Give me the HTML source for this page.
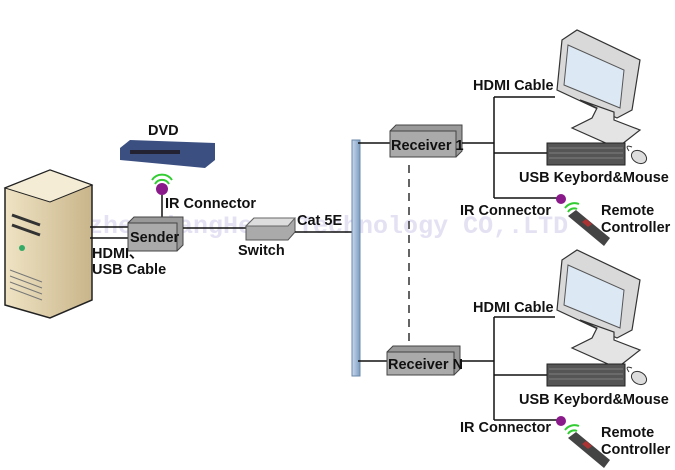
<!DOCTYPE html>
<html><head><meta charset="utf-8"><style>
html,body{margin:0;padding:0;background:#fff;}
svg{display:block;font-family:"Liberation Sans",Arial,sans-serif;}
.t{font-weight:bold;font-size:14.5px;fill:#111;}
</style></head><body>
<svg width="675" height="470" viewBox="0 0 675 470">
<defs>
<linearGradient id="beige" x1="0" x2="1"><stop offset="0" stop-color="#efe3c4"/><stop offset="1" stop-color="#c9b58a"/></linearGradient>
<linearGradient id="bus" x1="0" x2="1"><stop offset="0" stop-color="#c9d9ec"/><stop offset="1" stop-color="#7d9cc0"/></linearGradient>
<g id="mon">
<polygon points="10,10 25,0 88,30 80,80 65,88 5,60" fill="#d9d9d9" stroke="#333" stroke-width="1.2"/>
<polygon points="16,15 72,40 68,78 12,55" fill="#dde8f5" stroke="#555"/>
<polygon points="28,70 45,78 40,88 20,98 65,118 88,100 62,90 62,82" fill="#e4e4e4" stroke="#333" stroke-width="1.2"/>
</g>
<g id="kb">
<rect x="0" y="0" width="78" height="22" fill="#555" stroke="#222"/>
<path d="M2 5H76M2 10H76M2 15H76" stroke="#aaa" stroke-width="0.6"/>
<path d="M85 4 q-8 -3 -3 4" fill="none" stroke="#333"/>
<ellipse cx="92" cy="14" rx="8" ry="6" fill="#ddd" stroke="#333" transform="rotate(30 92 14)"/>
</g>
<g id="rem">
<path d="M3 6 a12 12 0 0 1 14 -4 M6 10 a7 7 0 0 1 9 -3" fill="none" stroke="#3c3" stroke-width="2"/>
<polygon points="6,14 14,8 48,36 42,44" fill="#444"/>
<polygon points="20,20 24,17 30,22 26,25" fill="#a33"/>
</g>
</defs>

<text x="28" y="233" font-family="Liberation Mono,monospace" font-size="25" fill="#e4e1f3" font-weight="bold">ShenzhenJiangHeng Technology CO,.LTD</text>

<!-- server -->
<polygon points="5,188 50,170 92,185 92,300 50,318 5,305" fill="url(#beige)" stroke="#222" stroke-width="1.5"/>
<polygon points="5,188 50,170 92,185 50,202" fill="#f4ecd5" stroke="#222"/>
<path d="M12 215 L40 225 M12 225 L40 235" stroke="#333" stroke-width="3"/>
<circle cx="22" cy="248" r="3" fill="#3a6"/>
<path d="M10 270 L42 282 M10 276 L42 288 M10 282 L42 294 M10 288 L42 300" stroke="#777"/>

<!-- DVD -->
<text class="t" x="148" y="135">DVD</text>
<polygon points="120,148 130,140 215,143 215,160 205,168 120,160" fill="#3b4f80"/>
<rect x="130" y="150" width="50" height="4" fill="#223"/>
<path d="M152 180 a12 12 0 0 1 20 0 M155 184 a8 8 0 0 1 14 0" fill="none" stroke="#3c3" stroke-width="2"/>
<circle cx="162" cy="189" r="6" fill="#8a1a8a"/>
<line x1="162" y1="195" x2="162" y2="220" stroke="#111" stroke-width="1.5"/>
<text class="t" x="165" y="208">IR Connector</text>

<!-- sender -->
<line x1="90" y1="227" x2="132" y2="227" stroke="#111" stroke-width="1.5"/>
<line x1="90" y1="238" x2="132" y2="238" stroke="#111" stroke-width="1.5"/>
<polygon points="128,223 134,217 183,217 183,245 177,251 128,251" fill="#999" stroke="#444"/>
<rect x="128" y="223" width="49" height="28" fill="#aaa" stroke="#444"/>
<text class="t" x="130" y="242">Sender</text>
<text class="t" x="92" y="258">HDMI、</text>
<text class="t" x="92" y="274">USB Cable</text>
<line x1="183" y1="228" x2="248" y2="228" stroke="#111" stroke-width="1.5"/>
<polygon points="246,226 254,218 295,218 295,232 288,240 246,240" fill="#aaa" stroke="#555"/>
<polygon points="246,226 254,218 295,218 288,226" fill="#ddd" stroke="#666"/>
<text class="t" x="238" y="255">Switch</text>
<text class="t" x="297" y="225">Cat 5E</text>
<line x1="295" y1="232" x2="354" y2="232" stroke="#111" stroke-width="1.5"/>

<!-- bus -->
<rect x="352" y="140" width="8" height="236" fill="url(#bus)" stroke="#6a88aa"/>
<line x1="409" y1="165" x2="409" y2="342" stroke="#111" stroke-width="1.3" stroke-dasharray="8,6"/>

<!-- receiver 1 -->
<line x1="358" y1="143" x2="392" y2="143" stroke="#111" stroke-width="1.5"/>
<polygon points="390,131 396,125 462,125 462,151 456,157 390,157" fill="#999" stroke="#444"/>
<rect x="390" y="131" width="66" height="26" fill="#aaa" stroke="#444"/>
<text class="t" x="391" y="150">Receiver 1</text>
<path d="M462 143H494 M494 97V198 M494 97H555 M494 153H548 M494 198H558" stroke="#111" stroke-width="1.5" fill="none"/>
<text class="t" x="473" y="90">HDMI Cable</text>
<use href="#mon" x="552" y="30"/>
<use href="#kb" x="547" y="143"/>
<text class="t" x="519" y="182">USB Keybord&amp;Mouse</text>
<circle cx="561" cy="199" r="5" fill="#8a1a8a"/>
<text class="t" x="460" y="215">IR Connector</text>
<use href="#rem" x="562" y="202"/>
<text class="t" x="601" y="215">Remote</text>
<text class="t" x="601" y="232">Controller</text>

<!-- receiver N -->
<line x1="358" y1="361" x2="390" y2="361" stroke="#111" stroke-width="1.5"/>
<polygon points="387,352 393,346 460,346 460,369 454,375 387,375" fill="#999" stroke="#444"/>
<rect x="387" y="352" width="67" height="23" fill="#aaa" stroke="#444"/>
<text class="t" x="388" y="369">Receiver N</text>
<path d="M460 361H494 M494 317V420 M494 317H555 M494 375H548 M494 420H558" stroke="#111" stroke-width="1.5" fill="none"/>
<text class="t" x="473" y="312">HDMI Cable</text>
<use href="#mon" x="552" y="250"/>
<use href="#kb" x="547" y="364"/>
<text class="t" x="519" y="404">USB Keybord&amp;Mouse</text>
<circle cx="561" cy="421" r="5" fill="#8a1a8a"/>
<text class="t" x="460" y="432">IR Connector</text>
<use href="#rem" x="562" y="424"/>
<text class="t" x="601" y="437">Remote</text>
<text class="t" x="601" y="454">Controller</text>
</svg>
</body></html>
